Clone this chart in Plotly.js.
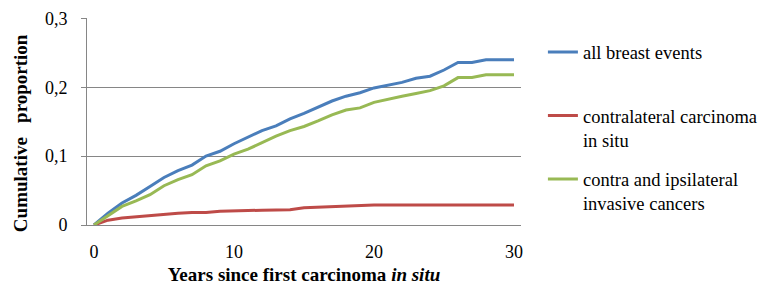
<!DOCTYPE html>
<html>
<head>
<meta charset="utf-8">
<script src="https://cdn.plot.ly/plotly-3.0.1.min.js"></script>
<style>html,body{margin:0;padding:0;background:#fff;}#chart{width:769px;height:285px;}</style>
</head>
<body>
<div id="chart"></div>
<script>
const years = [0,1,2,3,4,5,6,7,8,9,10,11,12,13,14,15,16,17,18,19,20,21,22,23,24,25,26,27,28,29,30];
const allBreastEvents = [0,0.017,0.032,0.043,0.056,0.069,0.079,0.087,0.100,0.107,0.118,0.127,0.137,0.144,0.154,0.162,0.171,0.180,0.187,0.192,0.199,0.203,0.207,0.213,0.216,0.225,0.236,0.236,0.240,0.240,0.240];
const contralateralCIS = [0,0.007,0.010,0.012,0.013,0.015,0.017,0.018,0.018,0.020,0.020,0.021,0.0215,0.0215,0.022,0.025,0.026,0.027,0.028,0.029,0.029,0.029,0.029,0.029,0.029,0.029,0.029,0.029,0.029,0.029,0.029];
const invasiveCancers = [0,0.013,0.027,0.035,0.044,0.057,0.066,0.073,0.086,0.093,0.103,0.110,0.120,0.129,0.137,0.143,0.151,0.160,0.167,0.170,0.178,0.183,0.187,0.191,0.195,0.202,0.214,0.214,0.218,0.218,0.218];
const seriesNames = ["all breast events","contralateral carcinoma<br>in situ","contra and ipsilateral<br>invasive cancers"];
const xTickVals = [0,10,20,30];
const xTickText = ["0","10","20","30"];
const yTickVals = [0,0.1,0.2,0.3];
const yTickText = ["0","0,1","0,2","0,3"];
const xBoundaryTicks = [-0.5,9.5,19.5,29.5];

const font = "Liberation Serif";
const grey = "#868686";
const traces = [
  {x: years, y: allBreastEvents, name: seriesNames[0], mode: "lines", line: {color: "#4A7EBB", width: 3}, legend: "legend"},
  {x: years, y: contralateralCIS, name: seriesNames[1], mode: "lines", line: {color: "#BE4B48", width: 3}, legend: "legend2"},
  {x: years, y: invasiveCancers, name: seriesNames[2], mode: "lines", line: {color: "#98B954", width: 3}, legend: "legend3"}
];
const legBase = {xref: "container", yref: "container", x: 0.706, xanchor: "left", yanchor: "top", valign: "top",
  font: {family: font, size: 18.5, color: "#000"}, bgcolor: "rgba(0,0,0,0)", borderwidth: 0};
const layout = {
  width: 769, height: 285,
  margin: {l: 87, r: 248, t: 18, b: 60},
  paper_bgcolor: "#fff", plot_bgcolor: "#fff",
  font: {family: font, color: "#000"},
  showlegend: true,
  legend: Object.assign({}, legBase, {y: 1 - 33.5/285}),
  legend2: Object.assign({}, legBase, {y: 1 - 97/285}),
  legend3: Object.assign({}, legBase, {y: 1 - 160.5/285}),
  xaxis: {
    range: [-0.5, 30.5], tickvals: xTickVals, ticktext: xTickText, ticks: "",
    showline: true, linecolor: grey, linewidth: 1, showgrid: false, zeroline: false,
    tickfont: {family: font, size: 18, color: "#000"}, ticklabelstandoff: 10,
    title: {text: "<b>Years since first carcinoma <i>in situ</i></b>", font: {family: font, size: 19, color: "#000"}, standoff: 10}
  },
  xaxis2: {
    overlaying: "x", matches: "x", anchor: "y", side: "bottom", range: [-0.5, 30.5],
    tickvals: xBoundaryTicks, ticks: "outside", ticklen: 5, tickcolor: grey, showticklabels: false,
    showline: false, showgrid: false, zeroline: false
  },
  yaxis: {
    range: [0, 0.3005], tickvals: yTickVals, ticktext: yTickText, ticks: "outside", ticklen: 5, tickcolor: grey,
    showline: true, linecolor: grey, linewidth: 1, showgrid: true, gridcolor: grey, gridwidth: 1, zeroline: false,
    tickfont: {family: font, size: 18, color: "#000"}, ticklabelstandoff: 10,
    title: {text: "<b>Cumulative\u00a0\u00a0\u00a0proportion\u00a0\u00a0\u00a0\u00a0\u00a0</b>", font: {family: font, size: 19, color: "#000"}, standoff: 12}
  }
};
Plotly.newPlot("chart", traces, layout, {displayModeBar: false, staticPlot: true});
</script>
</body>
</html>
